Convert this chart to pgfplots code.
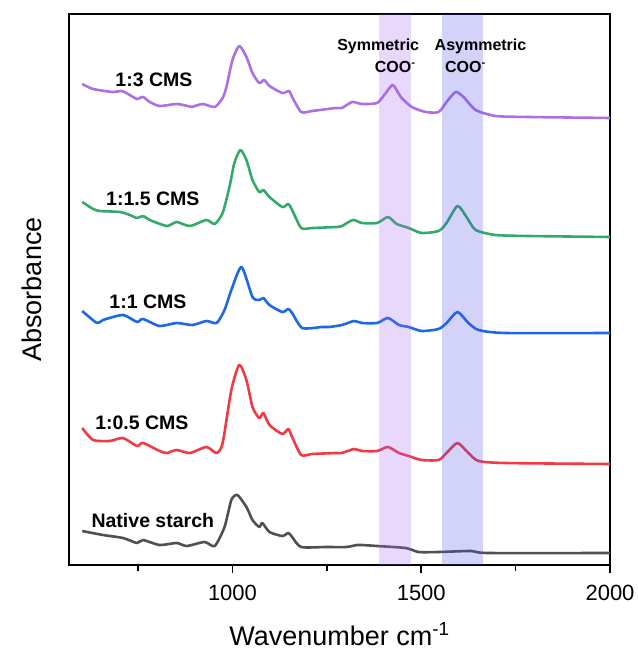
\documentclass[border=0pt]{standalone}
\usepackage{fontspec}
\setmainfont{Liberation Sans}
\usepackage{pgfplots}
\pgfplotsset{compat=1.18}

\definecolor{cpurple}{RGB}{172,112,228}
\definecolor{cgreen}{RGB}{52,170,104}
\definecolor{cblue}{RGB}{30,104,228}
\definecolor{cred}{RGB}{240,58,68}
\definecolor{cgray}{RGB}{80,80,80}
\definecolor{bandsym}{RGB}{160,100,245}
\definecolor{bandasym}{RGB}{80,80,235}

\begin{document}
\begin{tikzpicture}
\begin{axis}[
    scale only axis,
    width=541pt, height=551pt,
    xmin=567, xmax=2000,
    ymin=0, ymax=551,
    ytick=\empty,
    xtick={1000,1500,2000},
    minor xtick={750,1250,1750},
    xtick pos=bottom,
    tick align=outside,
    major tick length=8pt,
    minor tick length=6pt,
    tick style={line width=1.5pt, black},
    axis line style={line width=1.6pt},
    /pgf/number format/assume math mode=true,
    /pgf/number format/set thousands separator={},
    ticklabel style={font=\fontsize{22}{24}\selectfont},
    xticklabel style={yshift=-9pt},
    xlabel={Wavenumber cm\textsuperscript{-1}},
    ylabel={Absorbance},
    label style={font=\fontsize{27}{30}\selectfont},
    xlabel style={at={(rel axis cs:0.5,-0.1452)}, anchor=base},
    ylabel style={at={(rel axis cs:-0.0684,0.5)}, anchor=center},
    every axis plot/.append style={line width=2.6pt, line join=round, smooth, tension=0.4},
]

% 1:3 CMS
\addplot[cpurple] coordinates {
(602,481) (631,476) (683,473) (707,474) (728,470) (747,466) (763,468) (781,463)
(807,459) (852,461) (881,459) (892,458) (921,461) (953,458) (974,467) (984,478)
(1000,505) (1018,519) (1037,508) (1053,492) (1071,482) (1084,485) (1098,479)
(1132,472) (1150,474) (1158,468) (1182,453) (1211,454) (1274,457) (1290,457)
(1317,463) (1343,461) (1383,462) (1406,472) (1425,480) (1446,468) (1475,458)
(1512,453) (1546,453) (1567,463) (1591,473) (1612,468) (1644,455) (1697,449)
(1784,448) (2000,447)};

% 1:1.5 CMS
\addplot[cgreen] coordinates {
(602,363) (631,356) (649,354) (702,353) (728,350) (747,347) (763,349) (781,345)
(826,339) (852,343) (887,339) (931,345) (953,341) (974,352) (992,378) (1005,402)
(1021,415) (1037,405) (1053,385) (1071,373) (1082,375) (1098,368) (1132,358)
(1148,361) (1158,355) (1182,337) (1211,337) (1274,338) (1290,339) (1319,345)
(1343,342) (1383,342) (1412,348) (1435,341) (1467,337) (1501,332) (1546,334)
(1567,342) (1596,359) (1620,348) (1644,335) (1697,330) (1784,329) (2000,328)};

% 1:1 CMS
\addplot[cblue] coordinates {
(602,254) (641,242) (657,245) (710,250) (747,243) (763,246) (807,239) (852,242)
(894,240) (931,244) (958,242) (979,255) (997,275) (1024,298) (1053,268) (1071,265)
(1082,267) (1098,260) (1132,253) (1148,256) (1158,252) (1185,237) (1237,238)
(1256,238) (1290,240) (1322,244) (1343,242) (1383,242) (1412,247) (1441,240)
(1467,238) (1501,234) (1546,236) (1567,242) (1596,253) (1625,242) (1652,235)
(1723,232) (2000,232)};

% 1:0.5 CMS
\addplot[cred] coordinates {
(602,137) (631,125) (675,124) (710,127) (747,119) (763,122) (807,114) (826,112)
(852,115) (887,112) (931,118) (958,112) (974,122) (997,175) (1018,200) (1037,185)
(1053,158) (1071,147) (1082,152) (1098,140) (1132,131) (1148,136) (1158,128)
(1182,110) (1211,111) (1274,112) (1290,112) (1322,116) (1343,114) (1383,114)
(1412,118) (1441,112) (1467,109) (1501,105) (1546,105) (1567,112) (1596,122)
(1625,112) (1652,104) (1723,102) (2000,101)};

% Native starch
\addplot[cgray] coordinates {
(602,34) (657,30) (710,27) (747,22) (763,25) (807,20) (852,22) (879,19) (926,23)
(953,19) (979,38) (997,65) (1013,70) (1037,58) (1053,45) (1071,38) (1079,42)
(1098,33) (1132,29) (1148,32) (1158,28) (1182,18) (1248,18) (1301,18) (1330,20)
(1343,20) (1383,19) (1459,17) (1493,13) (1546,13) (1633,14) (1678,12) (2000,12)};

% highlighted bands
\addplot[draw=none, fill=bandsym, fill opacity=0.25, line width=0pt, sharp plot]
  coordinates {(1389,0) (1473,0) (1473,551) (1389,551)} -- cycle;
\addplot[draw=none, fill=bandasym, fill opacity=0.25, line width=0pt, sharp plot]
  coordinates {(1556,0) (1664,0) (1664,551) (1556,551)} -- cycle;

\begin{scope}[every node/.style={font=\fontsize{19.5}{22}\selectfont\bfseries}]
\node at (axis cs:792,485) {1:3 CMS};
\node at (axis cs:789,366) {1:1.5 CMS};
\node at (axis cs:776,263) {1:1 CMS};
\node at (axis cs:760,142) {1:0.5 CMS};
\node at (axis cs:789,44) {Native starch};
\end{scope}

\begin{scope}[every node/.style={font=\fontsize{16}{18}\selectfont\bfseries}]
\node at (axis cs:1386,519) {Symmetric};
\node at (axis cs:1431,498) {COO\textsuperscript{-}};
\node at (axis cs:1657,519) {Asymmetric};
\node at (axis cs:1617,498) {COO\textsuperscript{-}};
\end{scope}
\end{axis}
\path ([shift={(-69pt,-85pt)}]current axis.south west) rectangle ([shift={(27pt,14pt)}]current axis.north east);
\end{tikzpicture}
\end{document}
